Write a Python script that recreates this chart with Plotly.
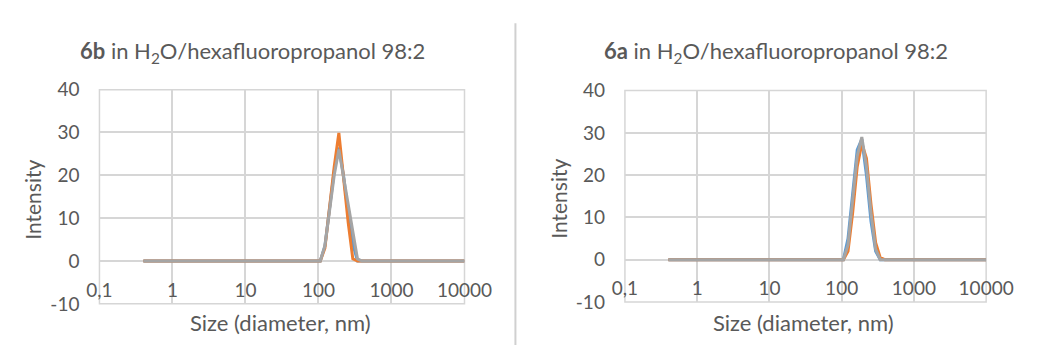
import plotly.graph_objects as go

# DLS size bins (diameter, nm)
size_nm = [
    0.4, 0.4632, 0.5365, 0.6213, 0.7195, 0.8332, 0.9649, 1.117, 1.294, 1.499,
    1.736, 2.01, 2.328, 2.696, 3.122, 3.615, 4.187, 4.849, 5.615, 6.503,
    7.531, 8.721, 10.1, 11.7, 13.54, 15.69, 18.17, 21.04, 24.36, 28.21,
    32.67, 37.84, 43.82, 50.75, 58.77, 68.06, 78.82, 91.28, 105.7, 122.4,
    141.8, 164.2, 190.1, 220.2, 255.0, 295.3, 342.0, 396.1, 458.7, 531.2,
    615.1, 712.4, 825.0, 955.4, 1106, 1281, 1484, 1718, 1990, 2305,
    2669, 3091, 3580, 4145, 4801, 5560, 6439, 7456, 8635, 10000,
]

# 6b, three runs (intensity %)
int_6b_run1 = [
    0, 0, 0, 0, 0, 0, 0, 0, 0, 0,
    0, 0, 0, 0, 0, 0, 0, 0, 0, 0,
    0, 0, 0, 0, 0, 0, 0, 0, 0, 0,
    0, 0, 0, 0, 0, 0, 0, 0, 0, 3.5,
    12.0, 21.0, 26.5, 20.0, 11.0, 4.0, 0, 0, 0, 0,
    0, 0, 0, 0, 0, 0, 0, 0, 0, 0,
    0, 0, 0, 0, 0, 0, 0, 0, 0, 0,
]
int_6b_run2 = [
    0, 0, 0, 0, 0, 0, 0, 0, 0, 0,
    0, 0, 0, 0, 0, 0, 0, 0, 0, 0,
    0, 0, 0, 0, 0, 0, 0, 0, 0, 0,
    0, 0, 0, 0, 0, 0, 0, 0, 0, 3.0,
    12.5, 22.0, 29.9, 19.5, 9.0, 0.5, 0, 0, 0, 0,
    0, 0, 0, 0, 0, 0, 0, 0, 0, 0,
    0, 0, 0, 0, 0, 0, 0, 0, 0, 0,
]
int_6b_run3 = [
    0, 0, 0, 0, 0, 0, 0, 0, 0, 0,
    0, 0, 0, 0, 0, 0, 0, 0, 0, 0,
    0, 0, 0, 0, 0, 0, 0, 0, 0, 0,
    0, 0, 0, 0, 0, 0, 0, 0, 0, 3.5,
    12.0, 20.0, 26.0, 19.5, 13.0, 6.5, 0.5, 0, 0, 0,
    0, 0, 0, 0, 0, 0, 0, 0, 0, 0,
    0, 0, 0, 0, 0, 0, 0, 0, 0, 0,
]

# 6a, three runs (intensity %)
int_6a_run1 = [
    0, 0, 0, 0, 0, 0, 0, 0, 0, 0,
    0, 0, 0, 0, 0, 0, 0, 0, 0, 0,
    0, 0, 0, 0, 0, 0, 0, 0, 0, 0,
    0, 0, 0, 0, 0, 0, 0, 0, 0, 5.0,
    16.0, 26.0, 28.5, 20.0, 9.0, 2.0, 0, 0, 0, 0,
    0, 0, 0, 0, 0, 0, 0, 0, 0, 0,
    0, 0, 0, 0, 0, 0, 0, 0, 0, 0,
]
int_6a_run2 = [
    0, 0, 0, 0, 0, 0, 0, 0, 0, 0,
    0, 0, 0, 0, 0, 0, 0, 0, 0, 0,
    0, 0, 0, 0, 0, 0, 0, 0, 0, 0,
    0, 0, 0, 0, 0, 0, 0, 0, 0, 2.0,
    11.0, 22.0, 27.5, 24.0, 13.0, 4.0, 0.5, 0, 0, 0,
    0, 0, 0, 0, 0, 0, 0, 0, 0, 0,
    0, 0, 0, 0, 0, 0, 0, 0, 0, 0,
]
int_6a_run3 = [
    0, 0, 0, 0, 0, 0, 0, 0, 0, 0,
    0, 0, 0, 0, 0, 0, 0, 0, 0, 0,
    0, 0, 0, 0, 0, 0, 0, 0, 0, 0,
    0, 0, 0, 0, 0, 0, 0, 0, 0, 3.5,
    14.0, 24.5, 29.0, 22.0, 11.0, 2.5, 0, 0, 0, 0,
    0, 0, 0, 0, 0, 0, 0, 0, 0, 0,
    0, 0, 0, 0, 0, 0, 0, 0, 0, 0,
]

x_tickvals = [0.1, 1, 10, 100, 1000, 10000]
x_ticktext = ["0,1", "1", "10", "100", "1000", "10000"]
y_tickvals = [-10, 0, 10, 20, 30, 40]
y_ticktext = ["-10", "0", "10", "20", "30", "40"]

run_colors = ["#5B9BD5", "#ED7D31", "#A5A5A5"]
TEXT = "#595959"
GRID = "#d6d6d6"
FONT = "Lato"

W, H = 1042, 356


def px_x(p):
    return p / W


def px_y(p):
    return 1 - p / H


fig = go.Figure()

panels = [
    dict(runs=[int_6b_run1, int_6b_run2, int_6b_run3], xa="x", ya="y",
         left=90, right=470, top=83, bottom=312, zero=267,
         title="<b>6b</b> in H<sub>2</sub>O/hexafluoropropanol 98:2",
         title_x=249, ytitle_x=20),
    dict(runs=[int_6a_run1, int_6a_run2, int_6a_run3], xa="x2", ya="y2",
         left=637, right=1013, top=84, bottom=310, zero=265,
         title="<b>6a</b> in H<sub>2</sub>O/hexafluoropropanol 98:2",
         title_x=794, ytitle_x=567),
]

annotations = []
shapes = []
for i, p in enumerate(panels):
    for run, col in zip(p["runs"], run_colors):
        fig.add_trace(go.Scatter(
            x=size_nm, y=run, mode="lines", xaxis=p["xa"], yaxis=p["ya"],
            line=dict(color=col, width=3), showlegend=False,
        ))
    sfx = "" if i == 0 else "2"
    fig.update_layout(**{
        "xaxis" + sfx: dict(
            type="log", range=[-1, 4], domain=[px_x(p["left"]), px_x(p["right"])],
            anchor="free", position=px_y(p["zero"]),
            tickvals=x_tickvals, ticktext=x_ticktext,
            showgrid=True, gridcolor=GRID, gridwidth=1.5,
            showline=False, zeroline=False, ticks="",
            ticklabelstandoff=15,
            tickfont=dict(family=FONT, size=19, color=TEXT),
        ),
        "yaxis" + sfx: dict(
            range=[-10, 40], domain=[px_y(p["bottom"]), px_y(p["top"])],
            anchor="x" + sfx if sfx else "x",
            tickvals=y_tickvals, ticktext=y_ticktext,
            showgrid=True, gridcolor=GRID, gridwidth=1.5,
            showline=False, zeroline=False, ticks="",
            ticklabelstandoff=19,
            tickfont=dict(family=FONT, size=19, color=TEXT),
        ),
    })
    # plot-area frame
    shapes.append(dict(
        type="rect", xref=p["xa"] + " domain", yref=p["ya"] + " domain",
        x0=0, x1=1, y0=0, y1=1, line=dict(color=GRID, width=1.5),
        layer="below",
    ))
    annotations.append(dict(
        text=p["title"], x=px_x(p["title_x"]), y=px_y(43), xref="paper", yref="paper",
        showarrow=False, xanchor="center", yanchor="middle",
        font=dict(family=FONT, size=22, color=TEXT),
    ))
    annotations.append(dict(
        text="Intensity", x=px_x(p["ytitle_x"]), y=px_y((p["top"] + p["bottom"]) / 2 + 3),
        xref="paper", yref="paper", showarrow=False, textangle=-90,
        xanchor="center", yanchor="middle",
        font=dict(family=FONT, size=21, color=TEXT),
    ))
    annotations.append(dict(
        text="Size (diameter, nm)", x=px_x((p["left"] + p["right"]) / 2 - 2), y=px_y(332),
        xref="paper", yref="paper", showarrow=False,
        xanchor="center", yanchor="middle",
        font=dict(family=FONT, size=22, color=TEXT),
    ))

# divider between the two panels
shapes.append(dict(
    type="line", xref="paper", yref="paper",
    x0=px_x(523), x1=px_x(523), y0=0, y1=px_y(12),
    line=dict(color="#d0d0d0", width=2),
))

fig.update_layout(
    width=W, height=H, margin=dict(l=0, r=0, t=0, b=0),
    paper_bgcolor="white", plot_bgcolor="white",
    annotations=annotations, shapes=shapes,
)

fig.write_html("out.html")
